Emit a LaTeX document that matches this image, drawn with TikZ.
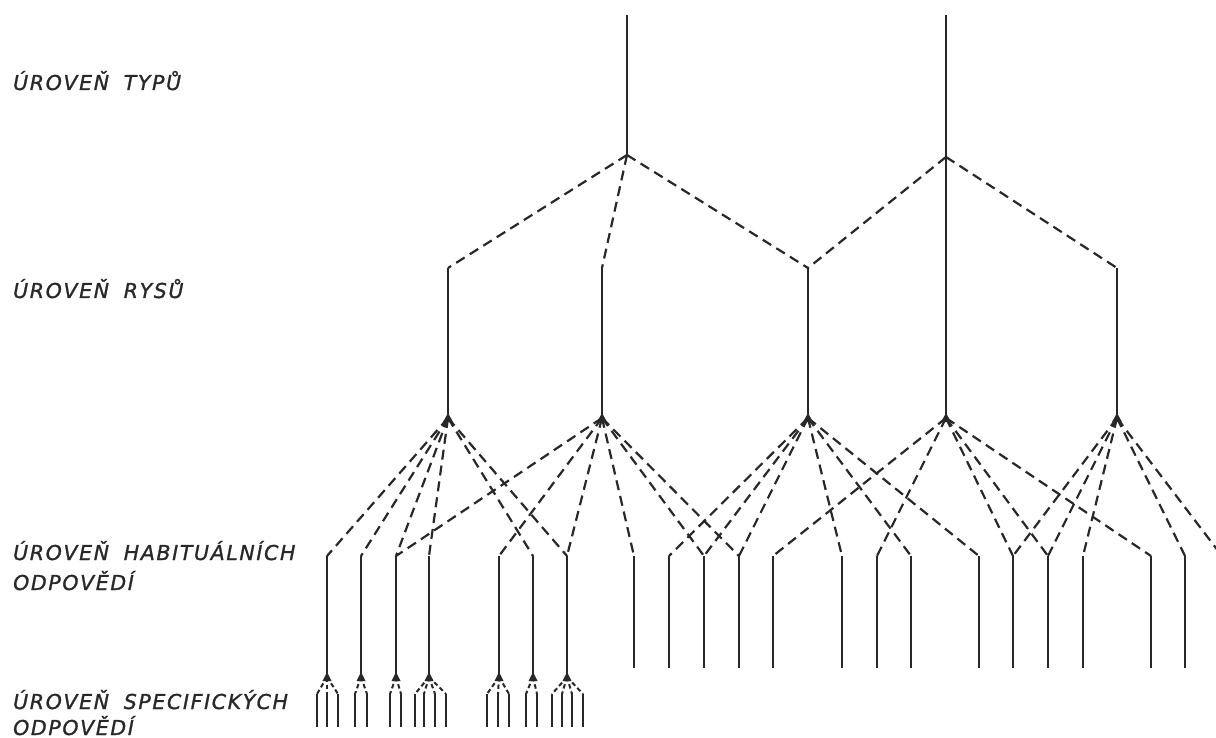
\documentclass[tikz,border=0pt]{standalone}
\usepackage{fontspec}
\usetikzlibrary{calc}
\setmainfont{DejaVu Sans}
\newfontfamily\lblfont[LetterSpace=8,WordSpace=1.8,FakeBold=1.2]{DejaVu Sans}
\definecolor{ink}{RGB}{40,40,40}
\begin{document}
\begin{tikzpicture}[x=1pt,y=-1pt,
  solidline/.style={draw=ink,line width=2.2pt},
  dashline/.style={draw=ink,line width=2.2pt,dash pattern=on 10pt off 6pt},
  finedash/.style={draw=ink,line width=2pt,dash pattern=on 4.5pt off 3pt},
  wedge/.style={fill=ink,draw=none},
  lbl/.style={anchor=base west,inner sep=0pt,text=ink,font=\lblfont\itshape\fontsize{20.5}{29}\selectfont}]
\useasboundingbox (0,0) rectangle (1216,738);
\clip (0,0) rectangle (1216,738);

% ---- labels
\node[lbl] (L1) at (13,90) {ÚROVEŇ TYPŮ};
\node[lbl] (L2) at (13,298) {ÚROVEŇ RYSŮ};
\node[lbl] (L3a) at (13,560) {ÚROVEŇ HABITUÁLNÍCH};
\node[lbl] (L3b) at (13,590) {ODPOVĚDÍ};
\node[lbl] (L4a) at (13,709) {ÚROVEŇ SPECIFICKÝCH};
\node[lbl] (L4b) at (13,735) {ODPOVĚDÍ};

% ---- type level
\coordinate (T1top) at (627,15);
\coordinate (T2top) at (946,15);
\coordinate (T1) at (627,155);
\coordinate (T2) at (946,157);

% ---- feature level
\foreach \n/\x in {1/448,2/602,3/808,5/1117}{
  \coordinate (F\n t) at (\x,268);
}
\foreach \n/\x in {1/448,2/602,3/808,4/946,5/1117}{
  \coordinate (F\n) at (\x,418);
}

\draw[solidline] (T1top) -- (T1);
\draw[solidline] (T2top) -- (T2) -- (F4);

\draw[dashline] (T1) -- (F1t);
\draw[dashline] (T1) -- (F2t);
\draw[dashline] (T1) -- (F3t);
\draw[dashline] (T2) -- (F3t);
\draw[dashline] (T2) -- (F5t);

\foreach \n in {1,2,3,5}{
  \draw[solidline] (F\n t) -- (F\n);
}

% ---- habitual response level
\foreach \n/\x in {1/327,2/361,3/396,4/429,5/499,6/533,7/567,8/634,9/669,10/704,11/739,12/773,13/842,14/877,15/911,16/979,17/1013,18/1048,19/1083,20/1151,21/1185,22/1222}{
  \coordinate (h\n) at (\x,556);
  \coordinate (h\n b) at (\x,668);
}
\foreach \n/\x in {1/327,2/361,3/396,4/429,5/499,6/533,7/567}{
  \coordinate (f\n) at (\x,677);
}

% connectors feature -> habitual
\foreach \h in {1,2,3,4,6,7}{ \draw[dashline] (F1) -- (h\h); }
\foreach \h in {3,5,7,8,10,11}{ \draw[dashline] (F2) -- (h\h); }
\foreach \h in {9,10,11,13,15,16}{ \draw[dashline] (F3) -- (h\h); }
\foreach \h in {12,14,17,18,20}{ \draw[dashline] (F4) -- (h\h); }
\foreach \h in {17,18,19,21,22}{ \draw[dashline] (F5) -- (h\h); }

% node wedges (feature level)
\foreach \n in {1,2,3,4,5}{
  \fill[wedge] ($(F\n)+(0,-5)$) -- ($(F\n)+(-5,4)$) -- ($(F\n)+(5,4)$) -- cycle;
}

% vertical habitual lines
\foreach \n in {1,...,7}{ \draw[solidline] (h\n) -- (f\n); }
\foreach \n in {8,...,22}{ \draw[solidline] (h\n) -- (h\n b); }

% ---- specific response level
\foreach \n/\lst in {1/{317,327,338},2/{355,367},3/{390,401},4/{415,424,435,446},5/{487,498,509},6/{526,537},7/{552,562,572,583}}{
  \fill[wedge] ($(f\n)+(0,-5)$) -- ($(f\n)+(-4.5,4)$) -- ($(f\n)+(4.5,4)$) -- cycle;
  \foreach \b in \lst {
    \coordinate (sa) at (\b,694);
    \coordinate (sb) at (\b,727);
    \draw[finedash] (f\n) -- (sa);
    \draw[solidline] (sa) -- (sb);
  }
}
\end{tikzpicture}
\end{document}
